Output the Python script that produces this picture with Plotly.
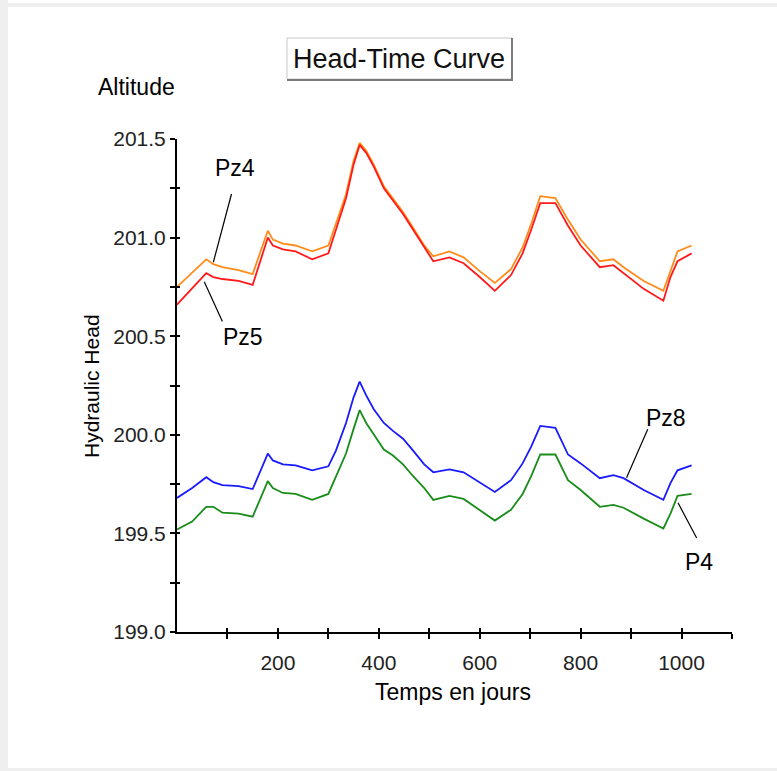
import plotly.graph_objects as go

# ---------------- data ----------------
days = [0, 30, 58, 72, 90, 122, 150, 180, 190, 210, 235, 268, 300, 315, 335, 350, 362, 375,
        390, 410, 428, 448, 468, 490, 508, 540, 568, 600, 630, 662, 685, 702, 720, 750, 775,
        800, 838, 865, 885, 925, 964, 978, 992, 1020]

pz4 = [200.75, 200.82, 200.89, 200.865, 200.85, 200.835, 200.815, 201.035, 200.99, 200.97,
       200.96, 200.93, 200.96, 201.07, 201.22, 201.39, 201.48, 201.44, 201.37, 201.26, 201.20,
       201.13, 201.05, 200.96, 200.905, 200.93, 200.90, 200.83, 200.77, 200.84, 200.95, 201.07,
       201.21, 201.20, 201.09, 200.99, 200.88, 200.89, 200.85, 200.78, 200.73, 200.835, 200.93,
       200.96]

pz5 = [200.66, 200.74, 200.82, 200.80, 200.79, 200.78, 200.76, 201.00, 200.96, 200.94,
       200.93, 200.89, 200.92, 201.04, 201.20, 201.37, 201.47, 201.43, 201.36, 201.25, 201.19,
       201.12, 201.04, 200.95, 200.88, 200.90, 200.87, 200.80, 200.73, 200.81, 200.92, 201.04,
       201.175, 201.175, 201.06, 200.96, 200.85, 200.86, 200.82, 200.74, 200.68, 200.80, 200.88,
       200.92]

pz8 = [199.68, 199.73, 199.785, 199.76, 199.745, 199.74, 199.725, 199.905, 199.87, 199.85,
       199.845, 199.82, 199.84, 199.92, 200.06, 200.19, 200.27, 200.20, 200.13, 200.06, 200.02,
       199.98, 199.92, 199.85, 199.81, 199.825, 199.81, 199.76, 199.71, 199.77, 199.855, 199.94,
       200.045, 200.035, 199.90, 199.855, 199.78, 199.795, 199.78, 199.72, 199.67, 199.755,
       199.82, 199.845]

p4 = [199.52, 199.56, 199.635, 199.635, 199.605, 199.60, 199.585, 199.765, 199.73, 199.705,
      199.70, 199.67, 199.70, 199.79, 199.905, 200.03, 200.125, 200.06, 200.00, 199.925, 199.895,
      199.85, 199.79, 199.73, 199.67, 199.69, 199.675, 199.62, 199.565, 199.62, 199.70, 199.79,
      199.90, 199.90, 199.77, 199.72, 199.635, 199.645, 199.63, 199.575, 199.525, 199.60,
      199.69, 199.70]

x_tick_vals = [100, 200, 300, 400, 500, 600, 700, 800, 900, 1000, 1100]
x_tick_text = ["", "200", "", "400", "", "600", "", "800", "", "1000", ""]
y_tick_vals = [199.0, 199.25, 199.5, 199.75, 200.0, 200.25, 200.5, 200.75, 201.0, 201.25, 201.5]
y_tick_text = ["199.0", "", "199.5", "", "200.0", "", "200.5", "", "201.0", "", "201.5"]

series_names = ["Pz4", "Pz5", "Pz8", "P4"]
series_colors = ["#ff8c1a", "#ff1a1a", "#1a1aff", "#1a8c1a"]

# label text position (day, head) and leader line (day0, head0, day1, head1)
labels = {
    "Pz4": ((115, 201.353), (108, 201.221, 72, 200.875)),
    "Pz5": ((131, 200.497), (54, 200.776, 90, 200.574)),
    "Pz8": ((969, 200.085), (933, 200.028, 891, 199.782)),
    "P4": ((1035, 199.355), (1030, 199.477, 993, 199.655)),
}

# ---------------- layout geometry ----------------
W, H = 777, 771
L, R, T, B = 177, 45, 139, 139
PW, PH = W - L - R, H - T - B


def px(xp):
    return (xp - L) / PW


def py(yp):
    return (H - B - yp) / PH


FONT = "Liberation Sans, Arial, sans-serif"

fig = go.Figure()
for name, ys, col in zip(series_names, [pz4, pz5, pz8, p4], series_colors):
    fig.add_trace(go.Scatter(x=days, y=ys, mode="lines", name=name,
                             line=dict(color=col, width=1.8), showlegend=False))

# helper trace for inner ticks
fig.add_trace(go.Scatter(x=[None], y=[None], xaxis="x2", yaxis="y2", showlegend=False))

shapes = []
annotations = []
for name, ((tx, ty), (x0, y0, x1, y1)) in labels.items():
    annotations.append(dict(x=tx, y=ty, xref="x", yref="y", text=name, showarrow=False,
                            xanchor="center", yanchor="middle",
                            font=dict(family=FONT, size=23, color="black")))
    shapes.append(dict(type="line", xref="x", yref="y", x0=x0, y0=y0, x1=x1, y1=y1,
                       line=dict(color="black", width=1.2)))

# page border strips
gray = "#efefef"
shapes += [
    dict(type="rect", xref="paper", yref="paper", x0=px(0), x1=px(8), y0=py(H), y1=py(0),
         fillcolor=gray, line_width=0, layer="below"),
    dict(type="rect", xref="paper", yref="paper", x0=px(0), x1=px(W), y0=py(7), y1=py(3),
         fillcolor=gray, line_width=0, layer="below"),
    dict(type="rect", xref="paper", yref="paper", x0=px(0), x1=px(W), y0=py(H), y1=py(768),
         fillcolor=gray, line_width=0, layer="below"),
]

# title box with 3D look
shapes += [
    dict(type="rect", xref="paper", yref="paper", x0=px(287), x1=px(512), y0=py(79), y1=py(38),
         fillcolor="white", line=dict(color="#c8c8c8", width=1)),
    dict(type="line", xref="paper", yref="paper", x0=px(512), x1=px(512), y0=py(80), y1=py(38),
         line=dict(color="#7a7a7a", width=2)),
    dict(type="line", xref="paper", yref="paper", x0=px(287), x1=px(513), y0=py(80), y1=py(80),
         line=dict(color="#7a7a7a", width=2)),
]


def label(xp, yp, text, size, angle=0, color="black"):
    return dict(x=px(xp), y=py(yp), xref="paper", yref="paper", text=text, showarrow=False,
                xanchor="center", yanchor="middle", textangle=angle,
                font=dict(family=FONT, size=size, color=color))


annotations += [
    label(399, 59, "Head-Time Curve", 27, color="#111"),
    label(136, 87, "Altitude", 23),
    label(91, 386, "Hydraulic Head", 21, angle=-90),
    label(453, 692, "Temps en jours", 23),
]

axis_common = dict(showgrid=False, zeroline=False, showline=True, linecolor="black",
                   linewidth=2, ticks="outside", ticklen=5, tickwidth=1.5, tickcolor="black",
                   tickfont=dict(family=FONT, size=21, color="#222"))

fig.update_layout(
    width=W, height=H,
    margin=dict(l=L, r=R, t=T, b=B),
    paper_bgcolor="white", plot_bgcolor="white",
    xaxis=dict(range=[0, 1100], tickmode="array", tickvals=x_tick_vals, ticktext=x_tick_text,
               ticklabelstandoff=6, **axis_common),
    yaxis=dict(range=[199.0, 201.5], tickmode="array", tickvals=y_tick_vals,
               ticktext=y_tick_text, **axis_common),
    xaxis2=dict(range=[0, 1100], overlaying="x", anchor="y2", showgrid=False, zeroline=False,
                showline=False, ticks="inside", ticklen=4, tickwidth=1.5, tickcolor="black",
                tickmode="array", tickvals=x_tick_vals, showticklabels=False, side="bottom"),
    yaxis2=dict(range=[199.0, 201.5], overlaying="y", anchor="x2", showgrid=False,
                zeroline=False, showline=False, ticks="inside", ticklen=3, tickwidth=1.5,
                tickcolor="black", tickmode="array", tickvals=y_tick_vals,
                showticklabels=False, side="left"),
    shapes=shapes,
    annotations=annotations,
)

fig.write_html(
    "out.html",
    config={"displayModeBar": False},
    post_script="document.body.style.margin='0';document.body.style.padding='0';"
                "document.body.style.overflow='hidden';",
)
